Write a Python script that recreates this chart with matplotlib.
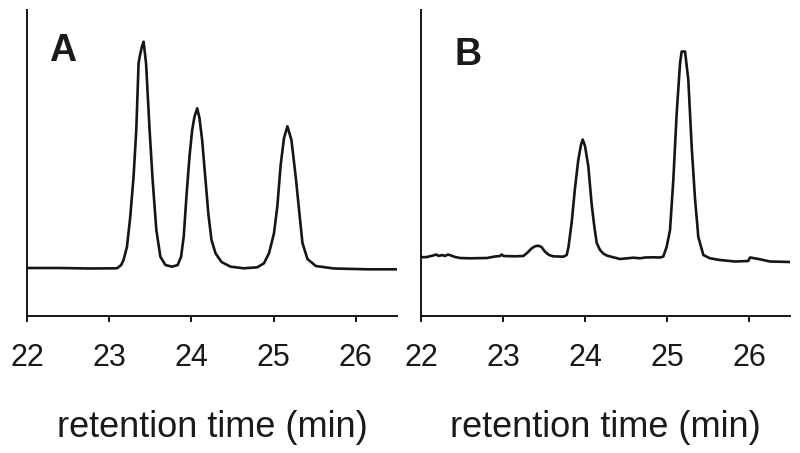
import matplotlib
matplotlib.use("Agg")
import matplotlib.pyplot as plt

plt.rcParams['font.family'] = ['Liberation Sans', 'DejaVu Sans']

# Panel A chromatogram (retention time in min, detector signal in arbitrary units)
time_a = [22.000, 22.402, 22.768, 23.094, 23.146, 23.174, 23.216, 23.256, 23.296, 23.329,
          23.357, 23.370, 23.396, 23.418, 23.448, 23.491, 23.528, 23.573, 23.622, 23.683,
          23.765, 23.833, 23.874, 23.906, 23.939, 23.976, 24.009, 24.037, 24.070, 24.098,
          24.130, 24.171, 24.207, 24.244, 24.293, 24.366, 24.476, 24.638, 24.801, 24.882,
          24.943, 25.004, 25.045, 25.085, 25.126, 25.167, 25.216, 25.268, 25.309, 25.350,
          25.411, 25.512, 25.735, 26.143, 26.509]
signal_a = [48.0, 48.0, 47.5, 47.7, 51.0, 56.0, 69.3, 99.3, 139.3, 186.0,
            252.7, 259.0, 269.0, 274.3, 252.7, 186.0, 136.0, 86.0, 59.3, 51.0,
            49.3, 51.0, 59.3, 79.3, 119.3, 159.3, 186.0, 199.3, 207.7, 197.7,
            176.0, 136.0, 101.0, 76.0, 62.7, 54.0, 49.3, 47.7, 48.7, 52.7,
            62.7, 82.7, 110.0, 151.0, 178.0, 189.7, 176.0, 139.3, 106.0, 73.0,
            57.0, 50.0, 47.5, 46.7, 46.7]

# Panel B chromatogram
time_b = [22.000, 22.073, 22.122, 22.150, 22.183, 22.220, 22.256, 22.293, 22.329, 22.366,
          22.415, 22.476, 22.598, 22.805, 22.902, 22.963, 22.984, 23.006, 23.146, 23.248,
          23.293, 23.350, 23.390, 23.430, 23.470, 23.512, 23.561, 23.613, 23.735, 23.777,
          23.799, 23.838, 23.878, 23.918, 23.951, 23.972, 24.000, 24.040, 24.082, 24.116,
          24.143, 24.183, 24.223, 24.265, 24.345, 24.427, 24.589, 24.671, 24.732, 24.833,
          24.915, 24.955, 24.996, 25.037, 25.077, 25.118, 25.159, 25.179, 25.220, 25.260,
          25.301, 25.341, 25.382, 25.443, 25.524, 25.646, 25.829, 25.991, 26.012, 26.049,
          26.134, 26.256, 26.500]
signal_b = [58.7, 59.0, 60.0, 60.5, 61.5, 60.0, 61.0, 60.0, 61.5, 60.5,
            59.0, 58.0, 57.7, 58.0, 59.5, 60.0, 61.5, 60.0, 59.7, 60.0,
            63.0, 67.7, 69.7, 70.3, 69.0, 64.3, 61.0, 59.7, 59.3, 61.0,
            69.3, 94.0, 128.0, 156.0, 171.0, 176.5, 170.0, 150.0, 111.0, 88.0,
            73.0, 66.0, 62.5, 60.5, 58.7, 57.0, 58.3, 57.7, 58.5, 58.7,
            58.5, 59.5, 69.3, 86.0, 136.0, 202.7, 252.7, 264.5, 264.5, 236.0,
            169.3, 118.0, 79.0, 61.0, 57.7, 56.0, 54.5, 55.0, 58.5, 58.0,
            56.7, 54.5, 54.0]

xticks = [22, 23, 24, 25, 26]
tick_labels = ["22", "23", "24", "25", "26"]
panel_labels = ["A", "B"]
xlabel_text = "retention time (min)"

W, H = 800, 453
fig = plt.figure(figsize=(W / 100, H / 100), dpi=100)
line_color = "#151515"

axes_px = [(27, 397), (421, 790)]
top_px, bottom_px = 10, 316
letter_pos = [(63, 51), (468, 55)]

for i, (times, sig) in enumerate([(time_a, signal_a), (time_b, signal_b)]):
    x0, x1 = axes_px[i]
    ax = fig.add_axes([x0 / W, (H - bottom_px) / H, (x1 - x0) / W, (bottom_px - top_px) / H])
    ax.plot(times, sig, color=line_color, lw=1.9, solid_joinstyle='round')
    ax.set_xlim(22, 26.5)
    ax.set_ylim(0, 306)
    for s in ["top", "right"]:
        ax.spines[s].set_visible(False)
    for s in ["left", "bottom"]:
        ax.spines[s].set_linewidth(1.4)
        ax.spines[s].set_color(line_color)
    ax.set_yticks([])
    ax.set_xticks(xticks)
    ax.set_xticklabels(tick_labels, fontsize=22, color="#1a1a1a")
    ax.tick_params(axis='x', direction='out', length=4.5, width=1.4, color=line_color, pad=15)
    ax.set_xlabel(xlabel_text, fontsize=26, color="#1a1a1a")
    ax.xaxis.set_label_coords(0.5, (bottom_px - 437) / (bottom_px - top_px))
    ax.xaxis.label.set_verticalalignment('baseline')
    lx, ly = letter_pos[i]
    fig.text(lx / W, 1 - ly / H, panel_labels[i], fontsize=27, fontweight='bold',
             ha='center', va='center', color="#1a1a1a")

fig.savefig("out.png", dpi=100)
